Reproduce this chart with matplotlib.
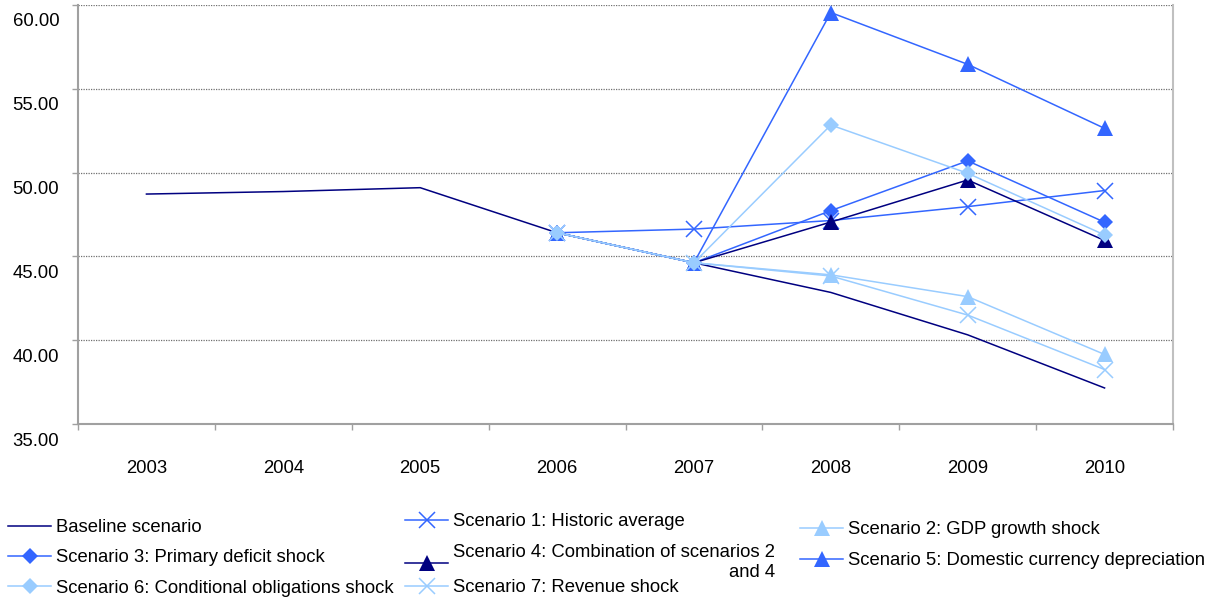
import matplotlib
matplotlib.use("Agg")
import matplotlib.pyplot as plt
import matplotlib.transforms as mtransforms
import numpy as np

plt.rcParams['font.family'] = ['Liberation Sans', 'DejaVu Sans']

# debt indicator by year, baseline and stress scenarios (scenarios start in 2006)
years = ['2003', '2004', '2005', '2006', '2007', '2008', '2009', '2010']
baseline = [48.72, 48.87, 49.10, 46.41, 44.62, 42.85, 40.32, 37.15]
s1_historic = [46.41, 46.63, 47.14, 47.97, 48.93]
s2_gdp = [46.41, 44.62, 43.90, 42.60, 39.15]
s3_primary = [46.41, 44.62, 47.73, 50.70, 47.04]
s4_combined = [46.41, 44.62, 47.05, 49.56, 45.95]
s5_currency = [46.41, 44.62, 59.55, 56.46, 52.64]
s6_contingent = [46.41, 44.62, 52.84, 49.96, 46.28]
s7_revenue = [46.41, 44.62, 43.83, 41.50, 38.25]
yticks = [35, 40, 45, 50, 55, 60]

navy = '#000080'
mid = '#3366FF'
light = '#99CCFF'
fs = 13.3

fig = plt.figure(figsize=(12.1, 6.01), dpi=100)
ax = fig.add_axes([78 / 1210, 1 - 424 / 601, (1173 - 78) / 1210, (424 - 5) / 601])

x = np.arange(len(years))
xs = x[3:]

lb, = ax.plot(x, baseline, color=navy, lw=1.1, clip_on=False)
l1, = ax.plot(xs, s1_historic, color=mid, lw=1.1, marker='x', ms=12, mew=1.1, clip_on=False)
l2, = ax.plot(xs, s2_gdp, color=light, lw=1.1, marker='^', ms=11, mew=0, clip_on=False)
l3, = ax.plot(xs, s3_primary, color=mid, lw=1.1, marker='D', ms=8.5, mew=0, clip_on=False)
l4, = ax.plot(xs, s4_combined, color=navy, lw=1.1, marker='^', ms=11, mew=0, clip_on=False)
l5, = ax.plot(xs, s5_currency, color=mid, lw=1.1, marker='^', ms=11, mew=0, clip_on=False)
l7, = ax.plot(xs, s7_revenue, color=light, lw=1.1, marker='x', ms=12, mew=1.1, clip_on=False)
l6, = ax.plot(xs, s6_contingent, color=light, lw=1.1, marker='D', ms=8.5, mew=0, clip_on=False)

ax.set_xlim(-0.5, len(years) - 0.5)
ax.set_ylim(35, 60)

# y axis
ax.set_yticks(yticks)
ax.set_yticklabels([f'{v:.2f}' for v in yticks])
ax.tick_params(axis='y', length=4.5, width=1, color='#A0A0A0', pad=9, labelsize=fs)
ax.yaxis.grid(True, color='#707070', lw=0.9, ls=(0, (1, 1)))
ax.set_axisbelow(True)
shift = mtransforms.ScaledTranslation(0, -0.15, fig.dpi_scale_trans)
for lbl in ax.get_yticklabels():
    lbl.set_transform(lbl.get_transform() + shift)

# x axis: labels at category centres, tick marks between categories
ax.set_xticks(x)
ax.set_xticklabels(years)
ax.set_xticks(np.arange(-0.5, len(years)), minor=True)
ax.tick_params(axis='x', which='major', length=0, pad=26, labelsize=fs)
ax.tick_params(axis='x', which='minor', length=4.5, width=1, color='#A0A0A0')

for side in ['left', 'bottom']:
    ax.spines[side].set_color('#A0A0A0')
    ax.spines[side].set_linewidth(1.5)
ax.spines['right'].set_color('#C0C0C0')
ax.spines['right'].set_linewidth(1.5)
ax.spines['top'].set_visible(False)

# legend laid out as separate column blocks
leg_kw = dict(loc='upper left', frameon=False, fontsize=fs, borderpad=0, borderaxespad=0,
              handlelength=2.35, handletextpad=0.25, labelspacing=0.72, numpoints=1)
fig.legend([lb, l3, l6],
           ['Baseline scenario', 'Scenario 3: Primary deficit shock',
            'Scenario 6: Conditional obligations shock'],
           bbox_to_anchor=(8 / 1210, 1 - 519 / 601), **leg_kw)
leg2 = fig.legend([l1, l4],
                  ['Scenario 1: Historic average', 'Scenario 4: Combination of scenarios 2\nand 4'],
                  bbox_to_anchor=(405 / 1210, 1 - 513 / 601), **dict(leg_kw, labelspacing=0.78))
leg2.get_texts()[1].set_multialignment('right')
fig.legend([l7], ['Scenario 7: Revenue shock'],
           bbox_to_anchor=(405 / 1210, 1 - 579 / 601), **leg_kw)
fig.legend([l2, l5],
           ['Scenario 2: GDP growth shock', 'Scenario 5: Domestic currency depreciation'],
           bbox_to_anchor=(800 / 1210, 1 - 521 / 601), **dict(leg_kw, labelspacing=0.78))

fig.savefig('out.png', dpi=100, facecolor='white')
